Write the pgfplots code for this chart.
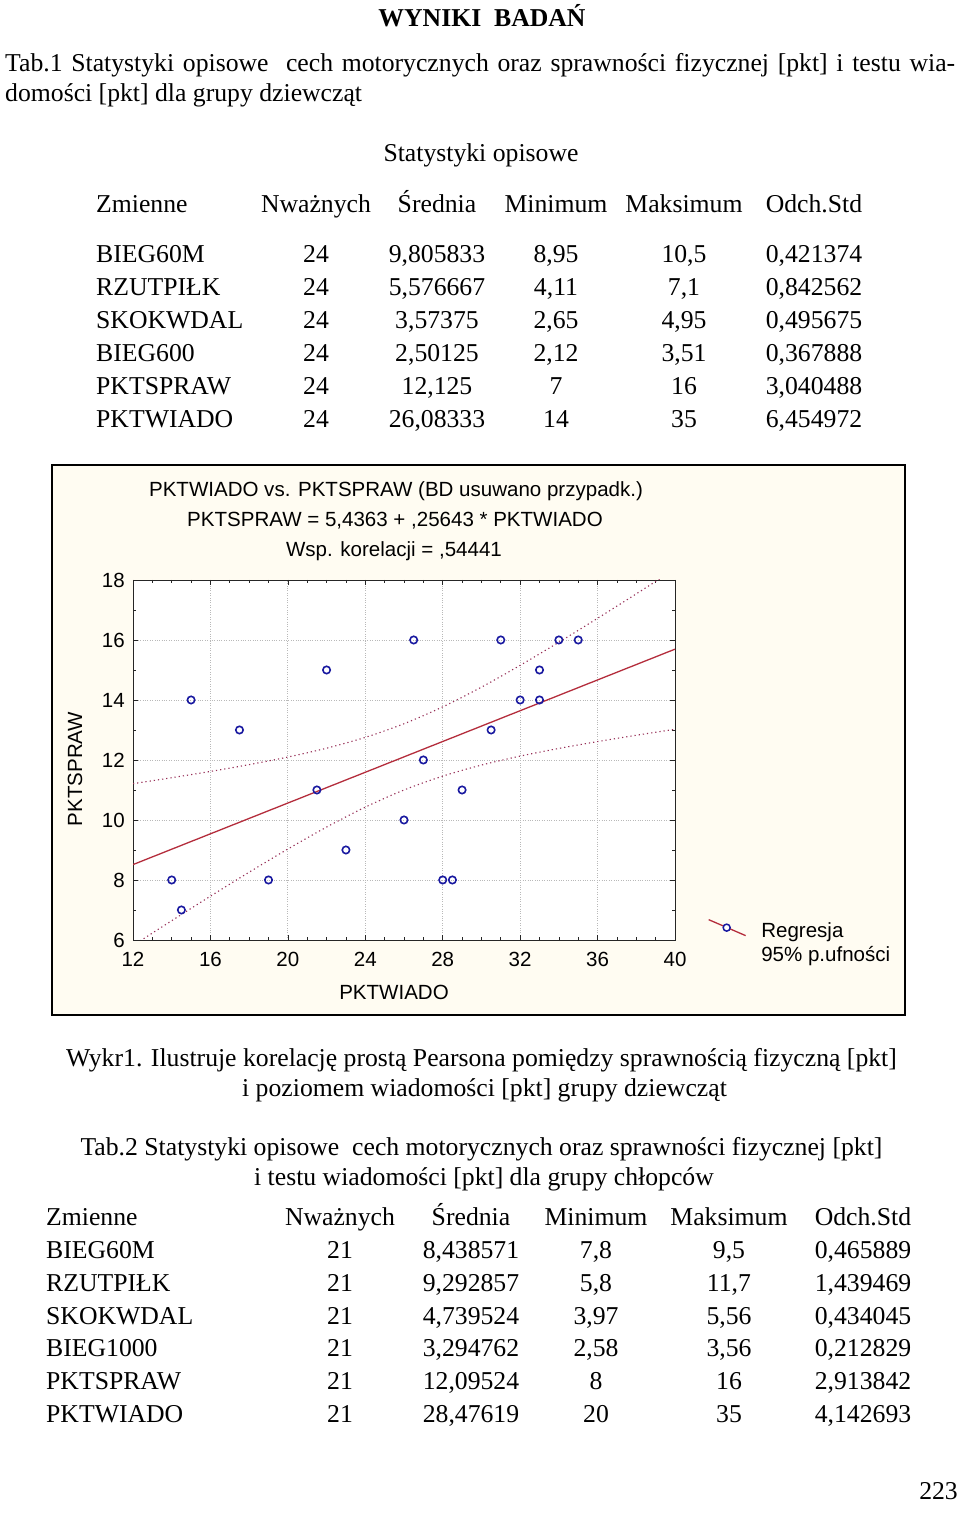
\documentclass[border=0pt]{standalone}
\usepackage{fontspec}
\setmainfont{Liberation Serif}
\newfontfamily\arial{Liberation Sans}
\usepackage{pgfplots}
\pgfplotsset{compat=1.18}
\definecolor{creamfill}{RGB}{255,252,242}
\definecolor{regcol}{RGB}{180,45,60}
\definecolor{bandcol}{RGB}{150,45,85}
\definecolor{markcol}{RGB}{25,25,160}
\newcommand\tf{\fontsize{25.8}{30}\selectfont}
\newcommand\cf{\arial\fontsize{20.6}{24}\selectfont}
\newcommand\rowA[7]{%
  \node[anchor=base west] at (96,1514-#1) {#2};
  \node[anchor=base] at (316,1514-#1) {#3};
  \node[anchor=base] at (437,1514-#1) {#4};
  \node[anchor=base] at (556,1514-#1) {#5};
  \node[anchor=base] at (684,1514-#1) {#6};
  \node[anchor=base] at (814,1514-#1) {#7};}
\newcommand\rowB[7]{%
  \node[anchor=base west] at (46,1514-#1) {#2};
  \node[anchor=base] at (340,1514-#1) {#3};
  \node[anchor=base] at (471,1514-#1) {#4};
  \node[anchor=base] at (596,1514-#1) {#5};
  \node[anchor=base] at (729,1514-#1) {#6};
  \node[anchor=base] at (863,1514-#1) {#7};}
\begin{document}
\begin{tikzpicture}[x=1bp,y=1bp]
\useasboundingbox (0,0) rectangle (960,1514);
\begin{scope}[every node/.append style={font=\tf, inner sep=0pt}]
\node[anchor=base, font=\tf\bfseries] at (482,1514-26.5) {WYNIKI\ \ BADAŃ};
\node[anchor=base west] at (5,1514-71.7) {\makebox[950bp][s]{Tab.1 Statystyki opisowe\ \ cech motorycznych oraz sprawności fizycznej [pkt] i testu wia-}};
\node[anchor=base west] at (5,1514-101.7) {domości [pkt] dla grupy dziewcząt};
\node[anchor=base] at (481,1514-162) {Statystyki opisowe};
\rowA{212.3}{Zmienne}{Nważnych}{Średnia}{Minimum}{Maksimum}{Odch.Std}
\rowA{262.5}{BIEG60M}{24}{9,805833}{8,95}{10,5}{0,421374}
\rowA{295.5}{RZUTPIŁK}{24}{5,576667}{4,11}{7,1}{0,842562}
\rowA{328.5}{SKOKWDAL}{24}{3,57375}{2,65}{4,95}{0,495675}
\rowA{361.5}{BIEG600}{24}{2,50125}{2,12}{3,51}{0,367888}
\rowA{394.5}{PKTSPRAW}{24}{12,125}{7}{16}{3,040488}
\rowA{427.5}{PKTWIADO}{24}{26,08333}{14}{35}{6,454972}
\node[anchor=base] at (481.5,1514-1066.5) {Wykr1. Ilustruje korelację prostą Pearsona pomiędzy sprawnością fizyczną [pkt]};
\node[anchor=base] at (484.5,1514-1096.5) {i poziomem wiadomości [pkt] grupy dziewcząt};
\node[anchor=base] at (481.5,1514-1155.5) {Tab.2 Statystyki opisowe\ \ cech motorycznych oraz sprawności fizycznej [pkt]};
\node[anchor=base] at (484,1514-1185.5) {i testu wiadomości [pkt] dla grupy chłopców};
\rowB{1225.5}{Zmienne}{Nważnych}{Średnia}{Minimum}{Maksimum}{Odch.Std}
\rowB{1258.5}{BIEG60M}{21}{8,438571}{7,8}{9,5}{0,465889}
\rowB{1291.5}{RZUTPIŁK}{21}{9,292857}{5,8}{11,7}{1,439469}
\rowB{1324.5}{SKOKWDAL}{21}{4,739524}{3,97}{5,56}{0,434045}
\rowB{1356.5}{BIEG1000}{21}{3,294762}{2,58}{3,56}{0,212829}
\rowB{1389.5}{PKTSPRAW}{21}{12,09524}{8}{16}{2,913842}
\rowB{1422.5}{PKTWIADO}{21}{28,47619}{20}{35}{4,142693}
\node[anchor=base east] at (958,1514-1500) {223};
\end{scope}
% chart frame
\draw[fill=creamfill, draw=black, line width=2bp] (52,1514-1015) rectangle (905,1514-465);
\begin{scope}[every node/.append style={font=\cf, inner sep=0pt}]
\node[anchor=base] at (396,1514-496.5) {PKTWIADO vs. PKTSPRAW (BD usuwano przypadk.)};
\node[anchor=base] at (395,1514-526.5) {PKTSPRAW = 5,4363 + ,25643 * PKTWIADO};
\node[anchor=base] at (394,1514-556.5) {Wsp. korelacji = ,54441};
\end{scope}
\begin{axis}[
  at={(133bp,574bp)}, anchor=south west,
  width=542bp, height=360bp, scale only axis,
  xmin=12, xmax=40, ymin=6, ymax=18,
  xtick={12,16,...,40}, ytick={6,8,...,18},
  minor x tick num=3, minor y tick num=1,
  tick align=inside,
  major tick length=5bp, minor tick length=3bp,
  axis line style={line width=0.9bp, black!85},
  every tick/.style={black!85, line width=0.7bp},
  grid=major,
  major grid style={dotted, gray!55, line width=0.8bp},
  axis background/.style={fill=white},
  ticklabel style={font=\cf, inner sep=0pt},
  /pgf/number format/assume math mode=true,
  xticklabel style={yshift=-11.6bp},
  yticklabel style={xshift=-8bp},
  xlabel={PKTWIADO}, ylabel={PKTSPRAW},
  label style={font=\cf},
  xlabel style={at={(axis description cs:0.4815,-0.1444)}, anchor=center},
  ylabel style={at={(axis description cs:-0.107,0.475)}, anchor=center},
  legend style={draw=none, fill=none, at={(axis description cs:1.0609,0.0583)}, anchor=north west,
    inner sep=0pt, outer sep=0pt, font=\cf, row sep=4bp, column sep=15bp,
    nodes={inner sep=0pt, text height=15bp, text depth=5bp}},
  legend cell align=left,
]
\addplot[regcol, line width=1.3bp, forget plot] coordinates {(12,8.513) (40,15.694)};
\addplot[bandcol, line width=1.1bp, dash pattern=on 1.2bp off 3bp, smooth, forget plot] coordinates {
(12,11.210) (14,11.409) (16,11.618) (18,11.845) (20,12.098) (22,12.393) (24,12.754) (26,13.208)
(28,13.770) (30,14.428) (32,15.155) (34,15.925) (36,16.723) (38,17.538) (40,18.365)};
\addplot[bandcol, line width=1.1bp, dash pattern=on 1.2bp off 3bp, smooth, forget plot] coordinates {
(12,5.816) (14,6.643) (16,7.460) (18,8.259) (20,9.032) (22,9.763) (24,10.428) (26,11.000)
(28,11.462) (30,11.830) (32,12.129) (34,12.385) (36,12.613) (38,12.824) (40,13.023)};
\addplot[only marks, mark=o, mark size=3.7bp, markcol, line width=1.6bp, forget plot] coordinates {
(14,8) (14.5,7) (15,14) (17.5,13) (19,8) (21.5,11) (22,15) (23,9) (26,10) (26.5,16) (27,12)
(28,8) (28.5,8) (29,11) (30.5,13) (31,16) (32,14) (33,15) (33,14) (34,16) (35,16)};
\addlegendimage{legend image code/.code={
  \draw[regcol, line width=1.3bp] (0bp,12.5bp) -- (37bp,-3.5bp);
  \draw[markcol, line width=1.5bp, fill=white] (18bp,4.5bp) circle[radius=3.5bp];}}
\addlegendentry{Regresja}
\addlegendimage{empty legend}
\addlegendentry{95\% p.ufności}
\end{axis}
\end{tikzpicture}
\end{document}
